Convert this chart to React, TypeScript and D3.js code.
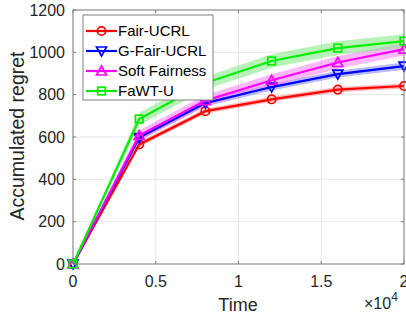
import React, { useEffect, useRef } from 'react';
import * as d3 from 'd3';

// time steps (plotted in units of 10^4)
const times = [0, 4000, 8000, 12000, 16000, 20000];

const fairUcrl = [0, 565, 722, 778, 824, 841];
const gFairUcrl = [0, 597, 760, 836, 897, 935];
const softFairness = [0, 607, 772, 868, 952, 1015];
const fawtU = [0, 685, 855, 959, 1020, 1053];

// half-width of the shaded bands
const fairUcrlSpread = [0, 12, 12, 12, 12, 12];
const gFairUcrlSpread = [0, 15, 16, 16, 16, 17];
const softFairnessSpread = [0, 25, 26, 28, 30, 30];
const fawtUSpread = [0, 30, 30, 32, 32, 32];

const seriesNames = ['Fair-UCRL', 'G-Fair-UCRL', 'Soft Fairness', 'FaWT-U'];
const seriesColors = ['#ff0000', '#0000ff', '#ff00ff', '#00ee00'];
const bandColors = ['#ff8080', '#8080ff', '#ff80ff', '#80e880'];
const markers = ['circle', 'down', 'up', 'square'];

const xTicks = [0, 5000, 10000, 15000, 20000];
const xTickLabels = ['0', '0.5', '1', '1.5', '2'];
const yTicks = [0, 200, 400, 600, 800, 1000, 1200];

export default function App() {
    const ref = useRef(null);

    useEffect(() => {
        document.body.style.margin = '0';
        const svg = d3.select(ref.current);
        svg.selectAll('*').remove();

        const font = 'Liberation Sans, Arial, sans-serif';
        const x = d3.scaleLinear().domain([0, 20000]).range([73, 404]);
        const y = d3.scaleLinear().domain([0, 1200]).range([264, 10]);

        // grid
        const grid = svg.append('g');
        xTicks.forEach((t) => {
            grid.append('line')
                .attr('x1', x(t)).attr('x2', x(t))
                .attr('y1', y(0)).attr('y2', y(1200))
                .attr('stroke', '#e6e6e6').attr('stroke-width', 1);
        });
        yTicks.forEach((t) => {
            grid.append('line')
                .attr('x1', x(0)).attr('x2', x(20000))
                .attr('y1', y(t)).attr('y2', y(t))
                .attr('stroke', '#e6e6e6').attr('stroke-width', 1);
        });

        const data = [fairUcrl, gFairUcrl, softFairness, fawtU];
        const spreads = [fairUcrlSpread, gFairUcrlSpread, softFairnessSpread, fawtUSpread];

        // shaded bands
        data.forEach((vals, k) => {
            const area = d3.area()
                .x((d, i) => x(times[i]))
                .y0((d, i) => y(vals[i] - spreads[k][i]))
                .y1((d, i) => y(vals[i] + spreads[k][i]));
            svg.append('path')
                .datum(vals)
                .attr('d', area)
                .attr('fill', bandColors[k])
                .attr('fill-opacity', 0.55);
        });

        const drawMarker = (g, type, cx, cy, color) => {
            if (type === 'circle') {
                g.append('circle').attr('cx', cx).attr('cy', cy).attr('r', 4.2)
                    .attr('fill', 'none').attr('stroke', color).attr('stroke-width', 1.7);
            } else if (type === 'square') {
                g.append('rect').attr('x', cx - 3.8).attr('y', cy - 3.8)
                    .attr('width', 7.6).attr('height', 7.6)
                    .attr('fill', 'none').attr('stroke', color).attr('stroke-width', 1.7);
            } else {
                const s = type === 'up' ? -1 : 1;
                const pts = [[cx - 5, cy - s * 4], [cx + 5, cy - s * 4], [cx, cy + s * 5]];
                g.append('polygon').attr('points', pts.map((p) => p.join(',')).join(' '))
                    .attr('fill', 'none').attr('stroke', color).attr('stroke-width', 1.7);
            }
        };

        // lines + markers
        data.forEach((vals, k) => {
            const line = d3.line()
                .x((d, i) => x(times[i]))
                .y((d) => y(d));
            svg.append('path')
                .datum(vals)
                .attr('d', line)
                .attr('fill', 'none')
                .attr('stroke', seriesColors[k])
                .attr('stroke-width', 2.2);
            const g = svg.append('g');
            vals.forEach((v, i) => drawMarker(g, markers[k], x(times[i]), y(v), seriesColors[k]));
        });

        // axes box
        svg.append('rect')
            .attr('x', x(0)).attr('y', y(1200))
            .attr('width', x(20000) - x(0)).attr('height', y(0) - y(1200))
            .attr('fill', 'none').attr('stroke', '#808080').attr('stroke-width', 1);

        // tick marks + labels
        xTicks.forEach((t, i) => {
            svg.append('line').attr('x1', x(t)).attr('x2', x(t))
                .attr('y1', y(0)).attr('y2', y(0) - 3).attr('stroke', '#808080');
            svg.append('line').attr('x1', x(t)).attr('x2', x(t))
                .attr('y1', y(1200)).attr('y2', y(1200) + 3).attr('stroke', '#808080');
            svg.append('text')
                .attr('x', x(t)).attr('y', 287)
                .attr('text-anchor', 'middle')
                .attr('font-family', font).attr('font-size', 16)
                .attr('fill', '#262626')
                .text(xTickLabels[i]);
        });
        yTicks.forEach((t) => {
            svg.append('line').attr('x1', x(0)).attr('x2', x(0) + 3)
                .attr('y1', y(t)).attr('y2', y(t)).attr('stroke', '#808080');
            svg.append('line').attr('x1', x(20000)).attr('x2', x(20000) - 3)
                .attr('y1', y(t)).attr('y2', y(t)).attr('stroke', '#808080');
            svg.append('text')
                .attr('x', 65).attr('y', y(t))
                .attr('dy', '0.35em')
                .attr('text-anchor', 'end')
                .attr('font-family', font).attr('font-size', 16)
                .attr('fill', '#262626')
                .text(t);
        });

        // axis labels
        svg.append('text')
            .attr('x', 238).attr('y', 311)
            .attr('text-anchor', 'middle')
            .attr('font-family', font).attr('font-size', 18)
            .attr('fill', '#262626')
            .text('Time');
        svg.append('text')
            .attr('transform', 'translate(24,136) rotate(-90)')
            .attr('text-anchor', 'middle')
            .attr('font-family', font).attr('font-size', 19.5)
            .attr('fill', '#262626')
            .text('Accumulated regret');
        const expo = svg.append('text')
            .attr('x', 364).attr('y', 309)
            .attr('font-family', font).attr('font-size', 16)
            .attr('fill', '#262626');
        expo.append('tspan').text('\u00d710');
        expo.append('tspan').attr('dy', -8).attr('font-size', 12).text('4');

        // legend
        const lg = svg.append('g');
        lg.append('rect')
            .attr('x', 83).attr('y', 15).attr('width', 130).attr('height', 85)
            .attr('fill', '#ffffff').attr('stroke', '#808080').attr('stroke-width', 1);
        seriesNames.forEach((name, k) => {
            const ly = 31 + k * 20;
            lg.append('line')
                .attr('x1', 86).attr('x2', 117).attr('y1', ly).attr('y2', ly)
                .attr('stroke', seriesColors[k]).attr('stroke-width', 2.2);
            drawMarker(lg, markers[k], 101.5, ly, seriesColors[k]);
            lg.append('text')
                .attr('x', 118).attr('y', ly)
                .attr('dy', '0.35em')
                .attr('font-family', font).attr('font-size', 15)
                .attr('fill', '#000')
                .text(name);
        });
    }, []);

    return <svg ref={ref} width={406} height={318} style={{ display: 'block', background: '#fff' }} />;
}
